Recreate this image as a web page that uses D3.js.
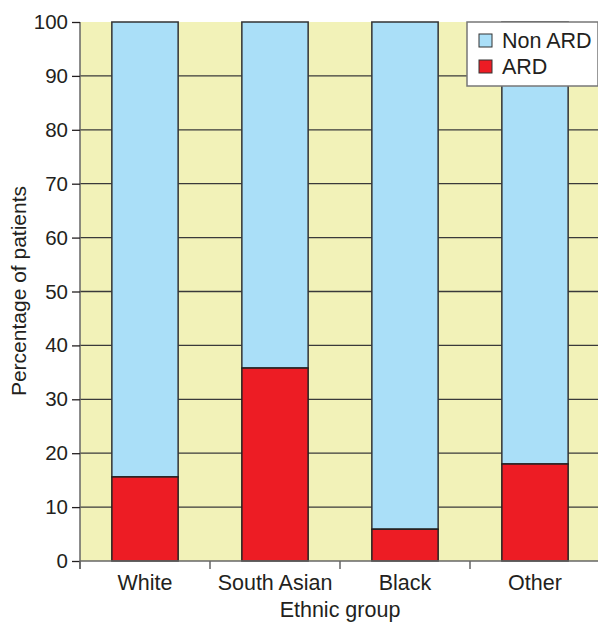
<!DOCTYPE html>
<html><head><meta charset="utf-8">
<script src="https://cdn.jsdelivr.net/npm/d3@7"></script>
<style>body{margin:0;background:#fff}svg{display:block}text{font-family:"Liberation Sans",Arial,sans-serif;fill:#231f20}</style>
</head><body><svg id="c" width="598" height="622"></svg>
<script>
const categories = ["White","South Asian","Black","Other"];
const ard = [15.6, 35.8, 5.9, 18.0];
const nonArd = [84.4, 64.2, 94.1, 82.0];
const yTicks = [0,10,20,30,40,50,60,70,80,90,100];
const seriesNames = ["Non ARD","ARD"];
const colors = {"Non ARD":"#aadff8","ARD":"#ed1c24"};

const svg = d3.select("#c");
const x = d3.scaleBand().domain(categories).range([80, 600]).paddingInner(0.49).paddingOuter(0.245);
const y = d3.scaleLinear().domain([0,100]).range([561, 22]);

svg.append("rect").attr("x",80).attr("y",22).attr("width",520).attr("height",539).attr("fill","#f2f2b8");
svg.append("g").selectAll("line").data(yTicks.filter(d=>d>0&&d<100)).join("line")
  .attr("x1",80).attr("x2",600).attr("y1",d=>y(d)).attr("y2",d=>y(d)).attr("stroke","#3a3a3a").attr("stroke-width",1.3);

const rows = categories.map((c,i)=>({c, ard:ard[i], non:nonArd[i]}));
const g = svg.append("g");
g.selectAll("rect.non").data(rows).join("rect").attr("class","non")
  .attr("x",d=>x(d.c)).attr("width",x.bandwidth())
  .attr("y",d=>y(d.ard+d.non)).attr("height",d=>y(d.ard)-y(d.ard+d.non))
  .attr("fill",colors["Non ARD"]).attr("stroke","#333").attr("stroke-width",1.5);
g.selectAll("rect.ard").data(rows).join("rect").attr("class","ard")
  .attr("x",d=>x(d.c)).attr("width",x.bandwidth())
  .attr("y",d=>y(d.ard)).attr("height",d=>y(0)-y(d.ard))
  .attr("fill",colors["ARD"]).attr("stroke","#222").attr("stroke-width",1.5);

// y axis
const ya = svg.append("g").attr("transform","translate(80,0)")
  .call(d3.axisLeft(y).tickValues(yTicks).tickSize(8).tickPadding(4));
ya.select(".domain").attr("stroke","#666").attr("stroke-width",1.5).attr("d","M0,22V569");
ya.selectAll(".tick line").attr("stroke","#231f20").attr("stroke-width",1.3);
ya.selectAll(".tick text").attr("font-size",20.5).attr("fill","#231f20").attr("font-family","Liberation Sans, Arial, sans-serif");

// x axis
const xa = svg.append("g").attr("transform","translate(0,561)")
  .call(d3.axisBottom(x).tickSize(0).tickPadding(14));
xa.select(".domain").attr("stroke","#666").attr("stroke-width",1.5).attr("d","M80,0H600");
xa.selectAll(".tick text").attr("font-size",21.5).attr("fill","#231f20").attr("font-family","Liberation Sans, Arial, sans-serif");
const bounds = [0,1,2,3].map(i=>x.step()*i + 80);
xa.append("g").selectAll("line").data(bounds).join("line")
  .attr("x1",d=>d).attr("x2",d=>d).attr("y1",0).attr("y2",8).attr("stroke","#666").attr("stroke-width",1.5);

svg.append("text").attr("x",340).attr("y",617).attr("text-anchor","middle").attr("font-size",21.5).text("Ethnic group");
svg.append("text").attr("transform","translate(26,291) rotate(-90)").attr("text-anchor","middle").attr("font-size",21).text("Percentage of patients");

// legend
const lg = svg.append("g");
lg.append("rect").attr("x",467).attr("y",22).attr("width",131).attr("height",64).attr("fill","#fff").attr("stroke","#777").attr("stroke-width",1.5);
seriesNames.forEach((s,i)=>{
  lg.append("rect").attr("x",479).attr("y",34+i*26).attr("width",13).attr("height",13).attr("fill",colors[s]).attr("stroke","#333").attr("stroke-width",1);
  lg.append("text").attr("x",502).attr("y",48+i*26).attr("font-size",21.5).text(s);
});
</script></body></html>
